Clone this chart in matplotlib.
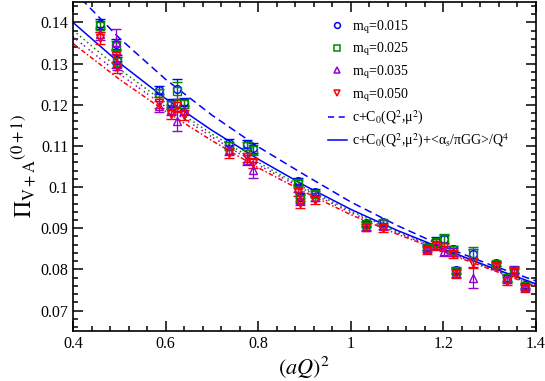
import matplotlib
matplotlib.use("Agg")
import matplotlib.pyplot as plt
from matplotlib.lines import Line2D
from matplotlib.ticker import MultipleLocator

plt.rcParams['font.family'] = ['Liberation Serif', 'DejaVu Serif']
plt.rcParams['mathtext.fontset'] = 'stix'

# (aQ)^2 values, shared by all quark masses
aq2 = [0.458, 0.492, 0.496, 0.586, 0.611, 0.624, 0.640, 0.737, 0.775, 0.790,
       0.887, 0.890, 0.922, 1.034, 1.069, 1.165, 1.185, 1.202, 1.221, 1.227,
       1.265, 1.314, 1.337, 1.353, 1.376]

pi_m015 = [0.1396, 0.1348, 0.1310, 0.1235, 0.1205, 0.1238, 0.1207, 0.1106, 0.1104, 0.1094,
           0.1014, 0.0975, 0.0987, 0.0912, 0.0915, 0.0855, 0.0870, 0.0873, 0.0850, 0.0798,
           0.0838, 0.0815, 0.0780, 0.0798, 0.0761]
err_m015 = [0.0013, 0.0012, 0.0012, 0.0010, 0.0010, 0.0025, 0.0010, 0.0010, 0.0010, 0.0012,
            0.0008, 0.0010, 0.0008, 0.0006, 0.0006, 0.0007, 0.0008, 0.0010, 0.0008, 0.0008,
            0.0012, 0.0006, 0.0008, 0.0007, 0.0006]

pi_m025 = [0.1391, 0.1343, 0.1305, 0.1228, 0.1200, 0.1234, 0.1203, 0.1100, 0.1100, 0.1090,
           0.1010, 0.0972, 0.0983, 0.0910, 0.0913, 0.0853, 0.0866, 0.0875, 0.0848, 0.0796,
           0.0840, 0.0813, 0.0778, 0.0797, 0.0759]
err_m025 = [0.0013, 0.0012, 0.0012, 0.0010, 0.0010, 0.0022, 0.0010, 0.0010, 0.0010, 0.0012,
            0.0008, 0.0010, 0.0008, 0.0006, 0.0006, 0.0007, 0.0008, 0.0012, 0.0008, 0.0008,
            0.0015, 0.0006, 0.0008, 0.0007, 0.0006]

pi_m035 = [0.1373, 0.1353, 0.1300, 0.1196, 0.1188, 0.1161, 0.1187, 0.1090, 0.1066, 0.1041,
           0.0997, 0.0968, 0.0975, 0.0903, 0.0905, 0.0850, 0.0860, 0.0845, 0.0842, 0.0792,
           0.0780, 0.0810, 0.0776, 0.0799, 0.0757]
err_m035 = [0.0015, 0.0030, 0.0015, 0.0013, 0.0012, 0.0025, 0.0012, 0.0012, 0.0012, 0.0020,
            0.0010, 0.0012, 0.0010, 0.0008, 0.0008, 0.0008, 0.0010, 0.0012, 0.0010, 0.0010,
            0.0025, 0.0008, 0.0010, 0.0009, 0.0008]

pi_m050 = [0.1363, 0.1318, 0.1292, 0.1205, 0.1178, 0.1198, 0.1176, 0.1083, 0.1072, 0.1058,
           0.0988, 0.0962, 0.0968, 0.0902, 0.0900, 0.0846, 0.0858, 0.0855, 0.0838, 0.0788,
           0.0815, 0.0808, 0.0772, 0.0793, 0.0754]
err_m050 = [0.0015, 0.0015, 0.0015, 0.0013, 0.0012, 0.0015, 0.0012, 0.0012, 0.0012, 0.0012,
            0.0010, 0.0012, 0.0010, 0.0008, 0.0008, 0.0008, 0.0010, 0.0010, 0.0010, 0.0010,
            0.0012, 0.0008, 0.0010, 0.0009, 0.0008]

# fit curves
fit_x = [0.40, 0.50, 0.60, 0.70, 0.80, 0.90, 1.00, 1.10, 1.20, 1.30, 1.40]
fit_c0 = [0.1478, 0.1362, 0.1262, 0.1175, 0.1098, 0.1030, 0.0964, 0.0907, 0.0856, 0.0812, 0.0772]
fit_full = [0.1400, 0.1302, 0.1215, 0.1138, 0.1068, 0.1004, 0.0946, 0.0895, 0.0850, 0.0806, 0.0765]
fit_m025 = [0.1381, 0.1287, 0.1204, 0.1129, 0.1060, 0.0998, 0.0942, 0.0892, 0.0848, 0.0805, 0.0763]
fit_m035 = [0.1365, 0.1275, 0.1195, 0.1122, 0.1054, 0.0994, 0.0938, 0.0889, 0.0846, 0.0803, 0.0761]
fit_m050 = [0.1349, 0.1262, 0.1184, 0.1113, 0.1047, 0.0988, 0.0933, 0.0886, 0.0843, 0.0801, 0.0759]

blue = '#0000ff'
green = '#008c00'
purple = '#9400d3'
red = '#ff0000'

fig = plt.figure(figsize=(5.45, 3.81), dpi=100)
ax = fig.add_axes([0.134, 0.131, 0.849, 0.864])

ax.plot(fit_x, fit_c0, color=blue, ls=(0, (5, 3)), lw=1.1)
ax.plot(fit_x, fit_m025, color=green, ls=(0, (1, 2)), lw=1.1)
ax.plot(fit_x, fit_m035, color=purple, ls=(0, (1, 1.5, 1, 3)), lw=1.1)
ax.plot(fit_x, fit_m050, color=red, ls=(0, (3, 1.5, 1, 1.5)), lw=1.1)
ax.plot(fit_x, fit_full, color=blue, ls='-', lw=1.1)

series = [
    (pi_m015, err_m015, blue, 'o'),
    (pi_m025, err_m025, green, 's'),
    (pi_m035, err_m035, purple, '^'),
    (pi_m050, err_m050, red, 'v'),
]
for vals, errs, col, mk in series:
    ax.errorbar(aq2, vals, yerr=errs, fmt=mk, color=col, mfc='none', mec=col,
                ms=5.5, mew=1.0, elinewidth=0.9, capsize=3.5, capthick=0.9)

ax.set_xlim(0.4, 1.4)
ax.set_ylim(0.065, 0.145)
ax.xaxis.set_minor_locator(MultipleLocator(0.04))
ax.yaxis.set_minor_locator(MultipleLocator(0.002))
ax.set_xticks([0.4, 0.6, 0.8, 1.0, 1.2, 1.4])
ax.set_xticklabels(['0.4', '0.6', '0.8', '1', '1.2', '1.4'])
ax.set_yticks([0.07, 0.08, 0.09, 0.10, 0.11, 0.12, 0.13, 0.14])
ax.set_yticklabels(['0.07', '0.08', '0.09', '0.1', '0.11', '0.12', '0.13', '0.14'])
ax.tick_params(which='both', direction='in', top=True, right=True, labelsize=11.5, width=1.1)
ax.tick_params(which='major', length=7)
ax.tick_params(which='minor', length=3.5)
for sp in ax.spines.values():
    sp.set_linewidth(1.2)

ax.set_xlabel(r'$(aQ)^2$', fontsize=16, labelpad=2)
ax.set_ylabel(r'$\Pi_{\mathrm{V+A}}{}^{(0+1)}$', fontsize=17, labelpad=2)

handles = [
    Line2D([], [], color=blue, marker='o', mfc='none', ls='none', ms=4.2, mew=1.1),
    Line2D([], [], color=green, marker='s', mfc='none', ls='none', ms=4.2, mew=1.1),
    Line2D([], [], color=purple, marker='^', mfc='none', ls='none', ms=4.2, mew=1.1),
    Line2D([], [], color=red, marker='v', mfc='none', ls='none', ms=4.2, mew=1.1),
    Line2D([], [], color=blue, ls=(0, (4, 3)), lw=1.1),
    Line2D([], [], color=blue, ls='-', lw=1.1),
]
labels = [
    r'm$_\mathrm{q}$=0.015',
    r'm$_\mathrm{q}$=0.025',
    r'm$_\mathrm{q}$=0.035',
    r'm$_\mathrm{q}$=0.050',
    'c+C$_0$(Q$^2$,μ$^2$)',
    'c+C$_0$(Q$^2$,μ$^2$)+<α$_\\mathrm{s}$/πGG>/Q$^4$',
]
ax.legend(handles, labels, loc='upper left', bbox_to_anchor=(0.551, 0.951), frameon=False,
          fontsize=10, handlelength=1.37, handletextpad=0.36, labelspacing=0.36,
          borderpad=0, borderaxespad=0)

fig.savefig('out.png', dpi=100)
